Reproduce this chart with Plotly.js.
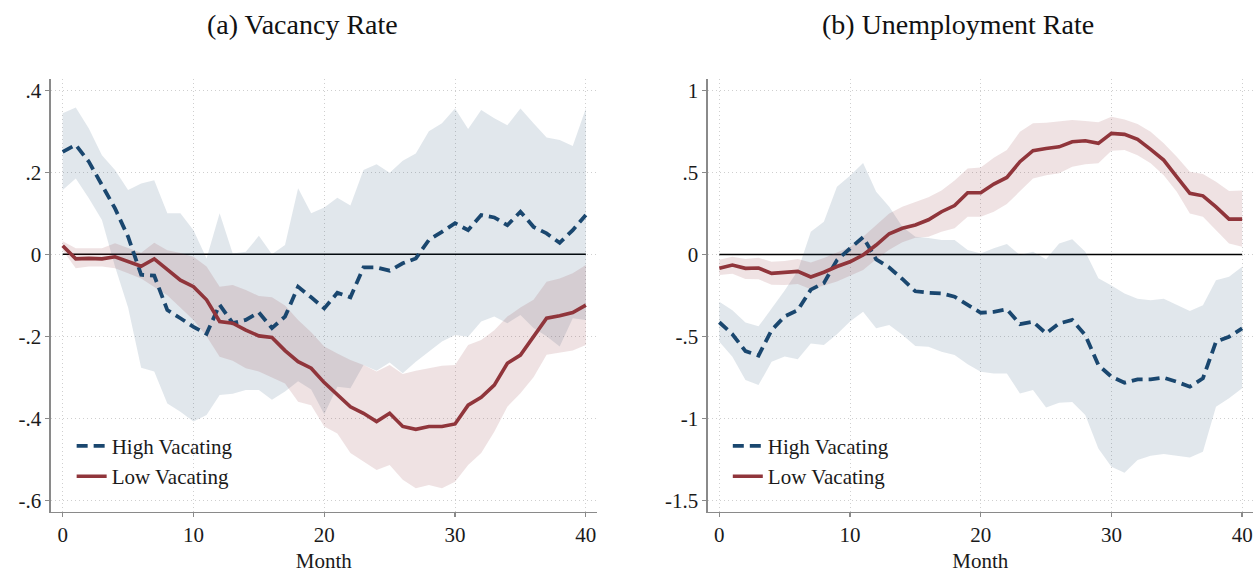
<!DOCTYPE html>
<html>
<head>
<meta charset="utf-8">
<script src="https://cdn.plot.ly/plotly-3.0.1.min.js"></script>
<style>
  html, body { margin: 0; padding: 0; background: #fff; }
  #chart { width: 1257px; height: 573px; }
</style>
</head>
<body>
<div id="chart"></div>
<script>
// Months since the event
const months = Array.from({length: 41}, (_, i) => i);

// Panel (a): vacancy rate responses with confidence bands
const vacHigh   = [0.25, 0.267, 0.226, 0.169, 0.112, 0.043, -0.05, -0.052, -0.136, -0.156, -0.177, -0.194, -0.123, -0.168, -0.16, -0.142, -0.18, -0.152, -0.079, -0.105, -0.132, -0.094, -0.105, -0.032, -0.032, -0.04, -0.022, -0.01, 0.035, 0.055, 0.076, 0.059, 0.096, 0.09, 0.071, 0.104, 0.067, 0.051, 0.028, 0.059, 0.096];
const vacHighHi = [0.344, 0.358, 0.307, 0.242, 0.206, 0.157, 0.173, 0.181, 0.10, 0.10, 0.059, -0.01, 0.10, 0.002, 0.006, 0.045, 0.0, 0.023, 0.161, 0.10, 0.114, 0.138, 0.119, 0.206, 0.22, 0.199, 0.228, 0.246, 0.30, 0.32, 0.356, 0.306, 0.352, 0.332, 0.315, 0.356, 0.32, 0.285, 0.279, 0.264, 0.356];
const vacHighLo = [0.157, 0.185, 0.137, 0.084, -0.03, -0.13, -0.277, -0.286, -0.364, -0.384, -0.408, -0.392, -0.343, -0.34, -0.331, -0.331, -0.355, -0.335, -0.31, -0.33, -0.39, -0.323, -0.327, -0.27, -0.284, -0.264, -0.29, -0.262, -0.237, -0.213, -0.197, -0.201, -0.164, -0.152, -0.168, -0.148, -0.18, -0.2, -0.225, -0.156, -0.16];
const vacLow    = [0.021, -0.011, -0.01, -0.011, -0.006, -0.018, -0.029, -0.011, -0.038, -0.063, -0.079, -0.111, -0.164, -0.168, -0.185, -0.199, -0.203, -0.235, -0.262, -0.278, -0.313, -0.343, -0.372, -0.388, -0.408, -0.388, -0.42, -0.427, -0.42, -0.42, -0.414, -0.368, -0.349, -0.319, -0.266, -0.246, -0.201, -0.156, -0.15, -0.142, -0.124];
const vacLowHi  = [0.032, 0.015, 0.015, 0.015, 0.027, 0.015, 0.004, 0.028, 0.01, 0.003, -0.006, -0.03, -0.079, -0.075, -0.087, -0.102, -0.105, -0.125, -0.16, -0.19, -0.225, -0.242, -0.258, -0.27, -0.286, -0.27, -0.292, -0.284, -0.278, -0.272, -0.27, -0.221, -0.209, -0.185, -0.152, -0.13, -0.111, -0.067, -0.059, -0.046, -0.026];
const vacLowLo  = [0.01, -0.034, -0.03, -0.03, -0.034, -0.046, -0.059, -0.08, -0.10, -0.13, -0.16, -0.20, -0.25, -0.26, -0.278, -0.286, -0.30, -0.315, -0.36, -0.368, -0.42, -0.437, -0.485, -0.506, -0.526, -0.514, -0.55, -0.571, -0.563, -0.571, -0.555, -0.514, -0.485, -0.433, -0.372, -0.339, -0.30, -0.245, -0.24, -0.235, -0.221];

// Panel (b): unemployment rate responses with confidence bands
const uneHigh   = [-0.414, -0.487, -0.59, -0.617, -0.462, -0.378, -0.34, -0.215, -0.175, -0.035, 0.036, 0.105, -0.03, -0.08, -0.15, -0.225, -0.234, -0.238, -0.258, -0.31, -0.356, -0.35, -0.335, -0.425, -0.411, -0.482, -0.421, -0.40, -0.492, -0.675, -0.746, -0.783, -0.762, -0.762, -0.752, -0.777, -0.807, -0.756, -0.533, -0.502, -0.451];
const uneHighHi = [-0.289, -0.34, -0.416, -0.439, -0.33, -0.22, -0.1, 0.138, 0.199, 0.412, 0.48, 0.557, 0.382, 0.29, 0.168, 0.107, 0.1, 0.087, 0.087, 0.026, 0.006, 0.037, 0.063, -0.004, 0.016, -0.029, 0.067, 0.093, 0.016, -0.146, -0.19, -0.238, -0.27, -0.28, -0.27, -0.31, -0.345, -0.31, -0.157, -0.137, -0.075];
const uneHighLo = [-0.533, -0.624, -0.766, -0.797, -0.655, -0.622, -0.64, -0.543, -0.553, -0.487, -0.41, -0.35, -0.451, -0.43, -0.49, -0.558, -0.563, -0.594, -0.614, -0.67, -0.716, -0.726, -0.726, -0.848, -0.827, -0.933, -0.905, -0.90, -0.98, -1.183, -1.295, -1.332, -1.254, -1.228, -1.218, -1.23, -1.238, -1.203, -0.929, -0.878, -0.817];
const uneLow    = [-0.085, -0.065, -0.085, -0.083, -0.116, -0.112, -0.104, -0.138, -0.109, -0.074, -0.045, -0.004, 0.057, 0.126, 0.159, 0.179, 0.211, 0.26, 0.298, 0.376, 0.376, 0.429, 0.469, 0.565, 0.632, 0.646, 0.656, 0.687, 0.693, 0.677, 0.738, 0.732, 0.701, 0.64, 0.575, 0.473, 0.372, 0.357, 0.29, 0.215, 0.215];
const uneLowHi  = [-0.032, -0.015, -0.028, -0.02, -0.045, -0.04, -0.028, -0.05, -0.022, 0.01, 0.045, 0.107, 0.179, 0.25, 0.29, 0.318, 0.348, 0.39, 0.45, 0.524, 0.53, 0.589, 0.636, 0.748, 0.799, 0.803, 0.813, 0.819, 0.813, 0.805, 0.839, 0.823, 0.795, 0.748, 0.677, 0.595, 0.504, 0.49, 0.443, 0.386, 0.39];
const uneLowLo  = [-0.126, -0.118, -0.15, -0.152, -0.185, -0.187, -0.18, -0.213, -0.19, -0.166, -0.133, -0.096, -0.03, 0.028, 0.074, 0.102, 0.107, 0.138, 0.159, 0.23, 0.23, 0.26, 0.307, 0.382, 0.463, 0.483, 0.494, 0.534, 0.55, 0.555, 0.632, 0.636, 0.605, 0.555, 0.483, 0.382, 0.25, 0.229, 0.148, 0.067, 0.046];

// Axis ticks
const monthTicks = [0, 10, 20, 30, 40];
const vacTickVals = [0.4, 0.2, 0, -0.2, -0.4, -0.6];
const vacTickText = ['.4', '.2', '0', '-.2', '-.4', '-.6'];
const uneTickVals = [1, 0.5, 0, -0.5, -1, -1.5];
const uneTickText = ['1', '.5', '0', '-.5', '-1', '-1.5'];

const seriesNames = ['High Vacating', 'Low Vacating'];
const panelTitles = ['(a) Vacancy Rate', '(b) Unemployment Rate'];

const NAVY = '#1a476f';
const MAROON = '#90353b';
const NAVY_BAND = 'rgba(26,71,111,0.13)';
const MAROON_BAND = 'rgba(144,53,59,0.14)';
const FONT = '"Liberation Serif", "Times New Roman", Times, serif';

function band(hi, lo, color, xa, ya) {
  return {
    x: months.concat(months.slice().reverse()),
    y: hi.concat(lo.slice().reverse()),
    xaxis: xa, yaxis: ya,
    type: 'scatter', mode: 'lines', fill: 'toself',
    fillcolor: color, line: {width: 0, color: 'rgba(0,0,0,0)'},
    hoverinfo: 'skip', showlegend: false
  };
}

function series(y, name, style, xa, ya, legend) {
  const dashed = style === 'dash';
  return {
    x: months, y: y, xaxis: xa, yaxis: ya, name: name,
    type: 'scatter', mode: 'lines',
    line: dashed ? {color: NAVY, width: 3.8, dash: '11px,6px'} : {color: MAROON, width: 3.6},
    legend: legend
  };
}

const traces = [
  band(vacHighHi, vacHighLo, NAVY_BAND, 'x', 'y'),
  band(vacLowHi, vacLowLo, MAROON_BAND, 'x', 'y'),
  series(vacHigh, seriesNames[0], 'dash', 'x', 'y', 'legend'),
  series(vacLow, seriesNames[1], 'solid', 'x', 'y', 'legend'),
  band(uneHighHi, uneHighLo, NAVY_BAND, 'x2', 'y2'),
  band(uneLowHi, uneLowLo, MAROON_BAND, 'x2', 'y2'),
  series(uneHigh, seriesNames[0], 'dash', 'x2', 'y2', 'legend2'),
  series(uneLow, seriesNames[1], 'solid', 'x2', 'y2', 'legend2')
];

const axisLine = '#8a8a8a';
const gridColor = '#cfcfcf';
const tickFont = {family: FONT, size: 21, color: '#1a1a1a'};

function xAxis(domain, range, anchor) {
  return {
    domain: domain, range: range, anchor: anchor,
    tickmode: 'array', tickvals: monthTicks,
    showline: true, linecolor: axisLine, linewidth: 1.3,
    ticks: 'outside', ticklen: 4, tickcolor: axisLine, tickwidth: 1.3,
    showgrid: true, gridcolor: gridColor, griddash: '1px,3px', gridwidth: 1,
    zeroline: false, tickfont: tickFont,
    title: {text: 'Month', font: tickFont, standoff: 8}
  };
}
function yAxis(domain, range, vals, text, anchor) {
  return {
    domain: domain, range: range, anchor: anchor,
    tickmode: 'array', tickvals: vals, ticktext: text,
    showline: true, linecolor: axisLine, linewidth: 1.3,
    ticks: 'outside', ticklen: 4, tickcolor: axisLine, tickwidth: 1.3,
    showgrid: true, gridcolor: gridColor, griddash: '1px,3px', gridwidth: 1,
    zeroline: false, tickfont: tickFont
  };
}

const yDomain = [0.107, 0.862];
const legendFont = {family: FONT, size: 21, color: '#1a1a1a'};

const layout = {
  width: 1257, height: 573,
  margin: {l: 0, r: 0, t: 0, b: 0},
  paper_bgcolor: '#ffffff', plot_bgcolor: '#ffffff',
  font: {family: FONT, color: '#1a1a1a'},
  xaxis: xAxis([0.0403, 0.4749], [-0.92, 40.85], 'y'),
  yaxis: yAxis(yDomain, [-0.628, 0.4276], vacTickVals, vacTickText, 'x'),
  xaxis2: xAxis([0.563, 0.9968], [-0.89, 40.83], 'y2'),
  yaxis2: yAxis(yDomain, [-1.569, 1.069], uneTickVals, uneTickText, 'x2'),
  shapes: [
    {type: 'line', xref: 'x', yref: 'y', x0: 0, x1: 40, y0: 0, y1: 0, layer: 'between', line: {color: '#000', width: 1.5}},
    {type: 'line', xref: 'x2', yref: 'y2', x0: 0, x1: 40, y0: 0, y1: 0, layer: 'between', line: {color: '#000', width: 1.5}}
  ],
  legend: {
    x: 0.057, y: 0.257, xanchor: 'left', yanchor: 'top',
    bgcolor: 'rgba(0,0,0,0)', font: legendFont, tracegroupgap: 0
  },
  legend2: {
    x: 0.579, y: 0.257, xanchor: 'left', yanchor: 'top',
    bgcolor: 'rgba(0,0,0,0)', font: legendFont, tracegroupgap: 0
  },
  annotations: [
    {text: panelTitles[0], xref: 'paper', yref: 'paper', x: 0.2403, y: 0.958, xanchor: 'center', yanchor: 'middle', showarrow: false, font: {family: FONT, size: 28, color: '#111'}},
    {text: panelTitles[1], xref: 'paper', yref: 'paper', x: 0.7621, y: 0.958, xanchor: 'center', yanchor: 'middle', showarrow: false, font: {family: FONT, size: 28, color: '#111'}}
  ],
  showlegend: true
};

Plotly.newPlot('chart', traces, layout, {staticPlot: true, displayModeBar: false});
</script>
</body>
</html>
